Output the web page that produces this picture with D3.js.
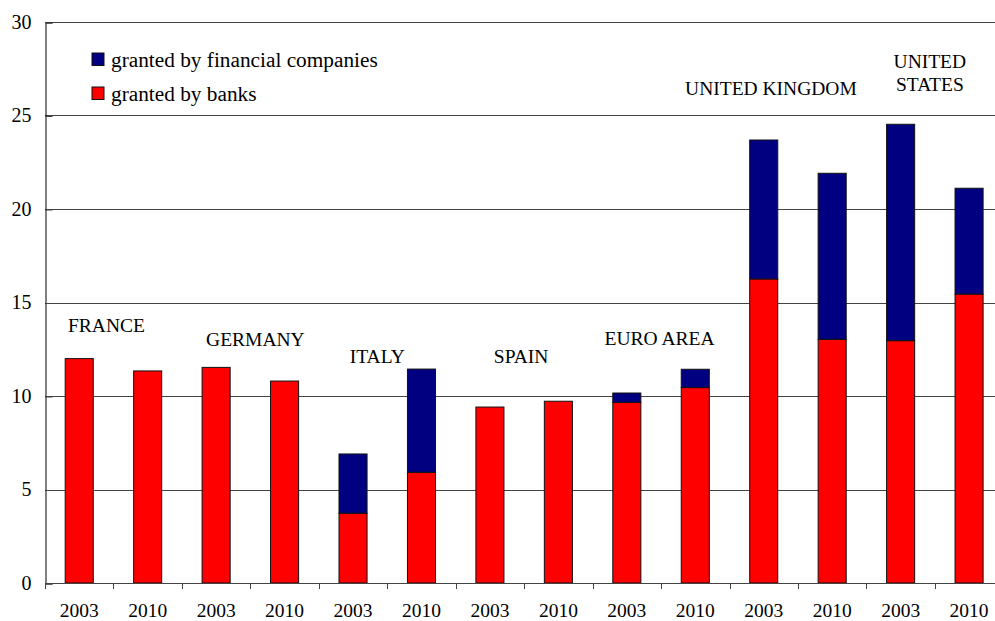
<!DOCTYPE html>
<html>
<head>
<meta charset="utf-8">
<title>Consumer credit</title>
<script src="https://cdn.jsdelivr.net/npm/d3@7/dist/d3.min.js"></script>
<style>
  body { margin: 0; background: #fff; overflow: hidden; }
  text { font-family: "Liberation Serif", "Times New Roman", serif; fill: #000; }
</style>
</head>
<body>
<script>
// data
var years = ["2003", "2010", "2003", "2010", "2003", "2010", "2003", "2010",
             "2003", "2010", "2003", "2010", "2003", "2010"];
var countries = ["FRANCE", "GERMANY", "ITALY", "SPAIN", "EURO AREA", "UNITED KINGDOM", "UNITED STATES"];
var banks     = [12.0, 11.34, 11.53, 10.8, 3.73, 5.92, 9.41, 9.72, 9.66, 10.45, 16.26, 13.03, 12.96, 15.45];
var financial = [0, 0, 0, 0, 3.17, 5.52, 0, 0, 0.5, 0.98, 7.43, 8.88, 11.57, 5.66];
var yTicks = [0, 5, 10, 15, 20, 25, 30];
var seriesNames = ["granted by financial companies", "granted by banks"];

(function() {
var w = 995, h = 621;
var mLeft = 45, mRight = 1003.3, mTop = 22, mBottom = 583;

var svg = d3.select("body").append("svg")
    .attr("width", w)
    .attr("height", h);

svg.append("rect").attr("width", w).attr("height", h).attr("fill", "#fff");

// title, almost entirely above the visible area as in the original
svg.append("text")
   .attr("x", 500).attr("y", -5)
   .attr("text-anchor", "middle")
   .style("font-size", "20px").style("font-weight", "bold").style("font-style", "italic")
   .text("(as a percentage of gross disposable income of consumer households; percentage points)");

var rows = years.map(function(yr, i) { return {i: i, banks: banks[i], financial: financial[i]}; });

var x = d3.scaleBand()
    .domain(d3.range(years.length))
    .range([mLeft, mRight])
    .paddingInner(0.59)
    .paddingOuter(0.295);

var y = d3.scaleLinear().domain([0, 30]).range([mBottom, mTop]);

// grid lines
svg.append("g").selectAll("line")
   .data(yTicks.slice(1))
   .enter().append("line")
   .attr("x1", mLeft).attr("x2", mRight)
   .attr("y1", function(d) { return Math.round(y(d)) + 0.5; })
   .attr("y2", function(d) { return Math.round(y(d)) + 0.5; })
   .attr("stroke", "#444")
   .attr("stroke-width", 1);

// y axis (ticks pointing inward)
var yAxis = svg.append("g")
   .attr("transform", "translate(" + (mLeft + 0.5) + ",0.5)")
   .call(d3.axisRight(y).tickValues(yTicks).tickSize(7).tickFormat(""));
yAxis.select(".domain").attr("stroke", "#000");
yAxis.selectAll(".tick line").attr("stroke", "#444");

svg.append("g").selectAll("text")
   .data(yTicks)
   .enter().append("text")
   .attr("x", 31.5)
   .attr("y", function(d) { return y(d); })
   .attr("dy", "0.34em")
   .attr("text-anchor", "end")
   .style("font-size", "20px")
   .text(function(d) { return d; });

// stacked bars
var stack = d3.stack().keys(["banks", "financial"]);
var colors = {banks: "#ff0000", financial: "#000080"};

svg.append("g").selectAll("g")
   .data(stack(rows))
   .enter().append("g")
   .attr("fill", function(s) { return colors[s.key]; })
   .selectAll("rect")
   .data(function(s) { return s.filter(function(d) { return d[1] - d[0] > 0; }); })
   .enter().append("rect")
   .attr("x", function(d) { return x(d.data.i); })
   .attr("width", x.bandwidth())
   .attr("y", function(d) { return y(d[1]); })
   .attr("height", function(d) { return y(d[0]) - y(d[1]); })
   .attr("stroke", "#111")
   .attr("stroke-width", 1);

// x axis
var step = x.step();
var bounds = d3.range(years.length + 1).map(function(i) { return mLeft + i * step; });

svg.append("line")
   .attr("x1", mLeft).attr("x2", mRight)
   .attr("y1", mBottom + 0.5).attr("y2", mBottom + 0.5)
   .attr("stroke", "#444");

svg.append("g").selectAll("line")
   .data(bounds)
   .enter().append("line")
   .attr("x1", function(d) { return Math.round(d) + 0.5; })
   .attr("x2", function(d) { return Math.round(d) + 0.5; })
   .attr("y1", mBottom).attr("y2", mBottom + 6)
   .attr("stroke", "#444");

svg.append("g").selectAll("text")
   .data(years)
   .enter().append("text")
   .attr("x", function(d, i) { return x(i) + x.bandwidth() / 2; })
   .attr("y", 617)
   .attr("text-anchor", "middle")
   .style("font-size", "19.5px")
   .text(function(d) { return d; });

// country labels: shift from pair centre, and baseline
var labelPos = [[-7, 331.7], [5, 346], [-10, 362.7], [-3, 362.7], [-1.5, 345], [-27, 95], [-5, 68]];

svg.append("g").selectAll("text")
   .data(countries)
   .enter().append("text")
   .attr("x", function(d, i) { return mLeft + (2 * i + 1) * step + labelPos[i][0]; })
   .attr("y", function(d, i) { return labelPos[i][1]; })
   .attr("text-anchor", "middle")
   .style("font-size", "19.5px")
   .each(function(d) {
       var t = d3.select(this);
       var words = d === "UNITED STATES" ? d.split(" ") : [d];
       words.forEach(function(wd, k) {
           t.append("tspan")
            .attr("x", t.attr("x"))
            .attr("dy", k === 0 ? 0 : 23)
            .text(wd);
       });
   });

// legend
var legend = svg.append("g").selectAll("g")
   .data(seriesNames)
   .enter().append("g")
   .attr("transform", function(d, i) { return "translate(92," + (53 + i * 34) + ")"; });

legend.append("rect")
   .attr("width", 12).attr("height", 12.5)
   .attr("fill", function(d, i) { return i === 0 ? colors.financial : colors.banks; })
   .attr("stroke", "#111");

legend.append("text")
   .attr("x", 19).attr("y", 13.5)
   .style("font-size", "21.3px")
   .text(function(d) { return d; });
})();
</script>
</body>
</html>
